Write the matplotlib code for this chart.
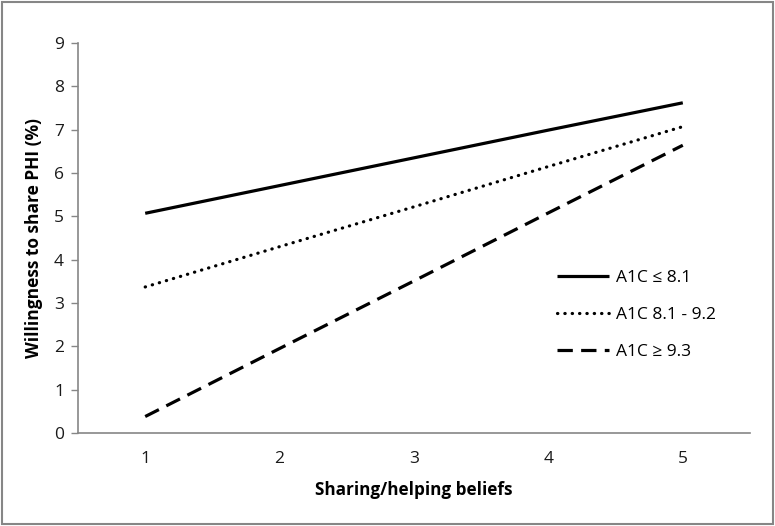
import matplotlib
matplotlib.use('Agg')
import matplotlib.pyplot as plt
from matplotlib.patches import Rectangle

plt.rcParams['font.family'] = ['Open Sans', 'DejaVu Sans']

beliefs = [1, 2, 3, 4, 5]
low_a1c = [5.07, 5.71, 6.35, 6.99, 7.62]
mid_a1c = [3.37, 4.3, 5.22, 6.15, 7.07]
high_a1c = [0.38, 1.95, 3.51, 5.08, 6.64]
labels = ['A1C \u2264 8.1', 'A1C 8.1 - 9.2', 'A1C \u2265 9.3']

fig = plt.figure(figsize=(7.75, 5.26), dpi=100)
ax = fig.add_axes([78/775, 93/526, 672/775, 390/526])

ax.plot(beliefs, low_a1c, color='black', lw=2.3, solid_capstyle='butt', label=labels[0])
ax.plot(beliefs, mid_a1c, color='black', lw=2.3, linestyle=(0, (0.1, 2.2)),
        dash_capstyle='round', label=labels[1])
ax.plot(beliefs, high_a1c, color='black', lw=2.3, linestyle=(0, (4.8, 2.6)),
        dash_capstyle='butt', label=labels[2])

ax.set_xlim(0.5, 5.5)
ax.set_ylim(0, 9)
ax.set_xticks(beliefs)
ax.set_yticks(range(10))
ax.tick_params(axis='x', length=0, pad=13, labelsize=12.5, labelcolor='#1a1a1a')
ax.tick_params(axis='y', length=5, width=1, color='#868686', pad=5,
               labelsize=12.5, labelcolor='#1a1a1a')
for s in ['top', 'right']:
    ax.spines[s].set_visible(False)
for s in ['left', 'bottom']:
    ax.spines[s].set_color('#868686')
    ax.spines[s].set_linewidth(1.2)

ax.set_xlabel('Sharing/helping beliefs', fontsize=12.3, fontweight='bold', labelpad=10)
ax.set_ylabel('Willingness to share PHI (%)', fontsize=12.5, fontweight='bold', labelpad=8)

leg = ax.legend(loc='center left', bbox_to_anchor=(0.69, 0.3026), frameon=False,
                fontsize=12.5, handlelength=3.0, handletextpad=0.4, labelspacing=1.2)

fig.patches.append(Rectangle((0.002, 0.003), 0.995, 0.994, transform=fig.transFigure,
                             fill=False, edgecolor='#868686', lw=1.5))

fig.savefig('out.png', dpi=100)
